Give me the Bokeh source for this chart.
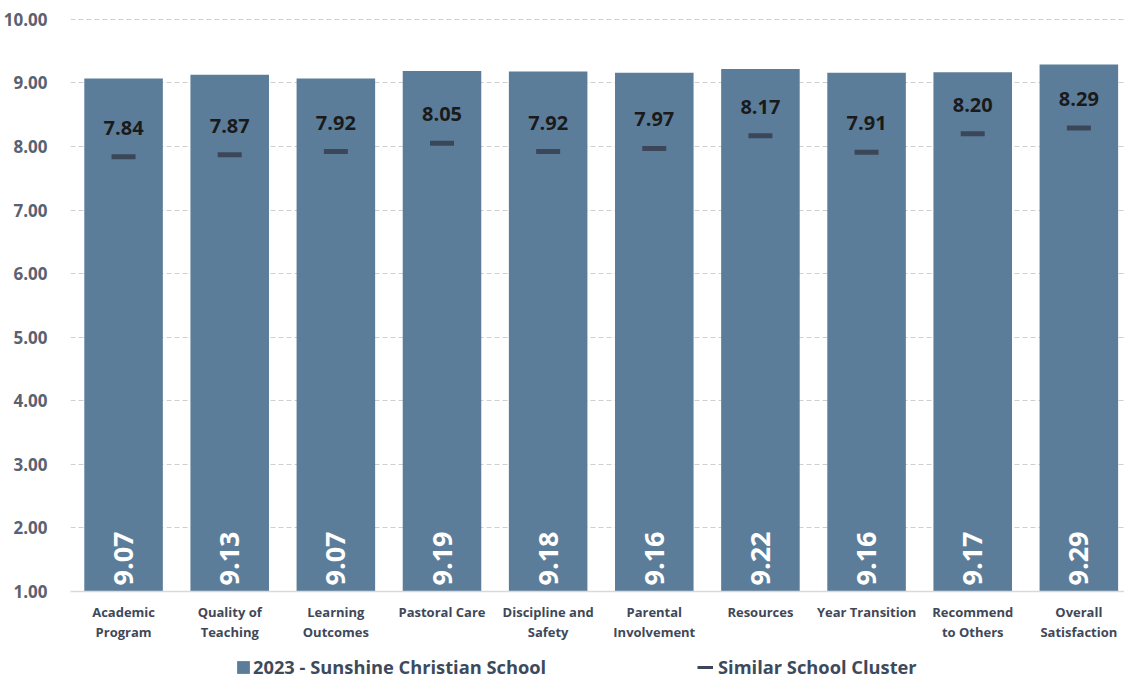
import math
from bokeh.plotting import figure
from bokeh.layouts import column
from bokeh.models import Range1d, FixedTicker, Legend, LegendItem, NumeralTickFormatter, ColumnDataSource
from bokeh.core.properties import value
from bokeh.embed import file_html
from bokeh.resources import INLINE

categories = ["Academic\nProgram", "Quality of\nTeaching", "Learning\nOutcomes", "Pastoral Care",
              "Discipline and\nSafety", "Parental\nInvolvement", "Resources", "Year Transition",
              "Recommend\nto Others", "Overall\nSatisfaction"]
school_2023 = [9.07, 9.13, 9.07, 9.19, 9.18, 9.16, 9.22, 9.16, 9.17, 9.29]
cluster = [7.84, 7.87, 7.92, 8.05, 7.92, 7.97, 8.17, 7.91, 8.20, 8.29]
y_ticks = [1, 2, 3, 4, 5, 6, 7, 8, 9, 10]
series_names = ["2023 - Sunshine Christian School", "Similar School Cluster"]

FONT = "Open Sans"
BAR = "#5b7d9a"
MARK = "#3b4759"
W = 1124

xs = list(range(len(categories)))
src = ColumnDataSource(dict(
    x=xs, school=school_2023, cluster=cluster,
    school_lbl=[f"{v:.2f}" for v in school_2023],
    cluster_lbl=[f"{v:.2f}" for v in cluster],
))

p = figure(width=W, height=645, output_backend="svg", toolbar_location=None,
           x_range=Range1d(-0.5, 9.43), y_range=Range1d(1, 10.03),
           min_border_left=70, min_border_right=0, min_border_top=17, min_border_bottom=54)
p.outline_line_color = None
p.border_fill_color = "white"

bars = p.vbar(x="x", top="school", bottom=1, width=0.74, source=src,
              fill_color=BAR, line_color=None)
marks = p.scatter(x="x", y="cluster", marker="dash", size=24, line_width=5,
                  line_color=MARK, source=src)

p.text(x="x", y="cluster", text="cluster_lbl", source=src, text_align="center",
       text_baseline="middle", y_offset=-29, text_font=value(FONT), text_font_style="bold",
       text_font_size="20px", text_color="#1a1a1a")
p.text(x="x", y=1, text="school_lbl", source=src, angle=math.pi / 2, text_align="left",
       text_baseline="middle", x_offset=0, y_offset=-6, text_font=value(FONT),
       text_font_style="bold", text_font_size="27px", text_color="white")

p.xgrid.visible = False
p.ygrid.ticker = FixedTicker(ticks=y_ticks)
p.ygrid.grid_line_color = "#cfcfcf"
p.ygrid.grid_line_dash = "5 3"
p.ygrid.grid_line_width = 1

p.yaxis.ticker = FixedTicker(ticks=y_ticks)
p.yaxis.formatter = NumeralTickFormatter(format="0.00")
p.yaxis.axis_line_color = None
p.yaxis.major_tick_line_color = None
p.yaxis.minor_tick_line_color = None
p.yaxis.major_label_standoff = 17
p.yaxis.major_label_text_font = FONT
p.yaxis.major_label_text_font_style = "bold"
p.yaxis.major_label_text_font_size = "17px"
p.yaxis.major_label_text_color = "#5b6170"

p.xaxis.ticker = FixedTicker(ticks=xs)
p.xaxis.major_label_overrides = {i: c for i, c in enumerate(categories)}
p.xaxis.axis_line_color = "#d9d9d9"
p.xaxis.axis_line_width = 1.5
p.xaxis.major_tick_line_color = None
p.xaxis.minor_tick_line_color = None
p.xaxis.major_label_standoff = 5
p.xaxis.major_label_text_font = FONT
p.xaxis.major_label_text_font_style = "bold"
p.xaxis.major_label_text_font_size = "13px"
p.xaxis.major_label_text_color = "#404858"
p.xaxis.major_label_text_line_height = 1.15

# ---- legend strip below the chart (its frame is aligned with the chart frame) ----
lg = figure(width=W, height=34, output_backend="svg", toolbar_location=None,
            x_axis_type=None, y_axis_type=None, min_border=0,
            x_range=Range1d(100, 101), y_range=Range1d(100, 101))
lg.outline_line_color = None
lg.grid.visible = False
# legend swatches: same series, drawn outside this strip's visible ranges
bar_proxy = lg.vbar(x="x", top="school", bottom=1, width=0.74, source=src,
                    fill_color=BAR, line_color=None)
dash_proxy = lg.line(x="x", y="cluster", source=src, line_color=MARK, line_width=3)

common = dict(orientation="horizontal", padding=0, margin=0,
              label_text_font=FONT, label_text_font_style="bold",
              label_text_font_size="18.3px", label_text_color="#3d4a5c",
              border_line_color=None, background_fill_alpha=0, label_height=24)
leg1 = Legend(items=[LegendItem(label=series_names[0], renderers=[bar_proxy])],
              location=(165, 0), glyph_width=16, glyph_height=16, label_standoff=2, **common)
leg2 = Legend(items=[LegendItem(label=series_names[1], renderers=[dash_proxy])],
              location=(627, 0), glyph_width=16, glyph_height=16, label_standoff=5, **common)
lg.add_layout(leg1, "center")
lg.add_layout(leg2, "center")

layout = column(p, lg, spacing=0)
open("out.html", "w").write(file_html(layout, INLINE))
